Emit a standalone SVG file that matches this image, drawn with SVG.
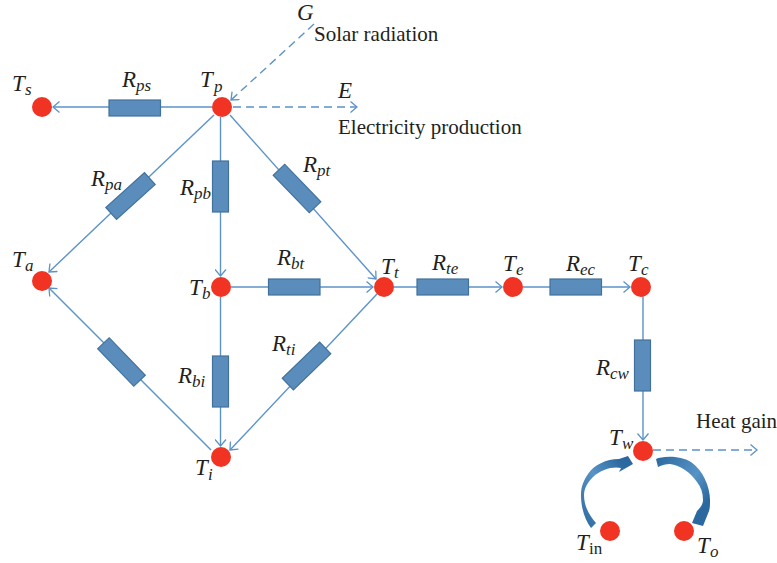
<svg xmlns="http://www.w3.org/2000/svg" width="777" height="563" viewBox="0 0 777 563">
<style>
text{font-family:"Liberation Serif",serif;fill:#231f20}
.l{font-size:21px}
.v{font-size:23px;font-style:italic}
.s{font-size:17px;font-style:italic}
.u{font-size:17px}
.c{fill:none;stroke:#5b93c7;stroke-width:1.4}
.d{stroke-dasharray:8 5}
.r{fill:#5b8dbc;stroke:#41719c;stroke-width:1.2}
.n{fill:#f13324}
</style>
<defs>
<marker id="a" viewBox="-10 -6 11 12" refX="0" refY="0" markerWidth="11" markerHeight="12" markerUnits="userSpaceOnUse" orient="auto"><path d="M-6.500-5.500L0 0L-6.500 5.500" fill="none" stroke="#5b93c7" stroke-width="1.3"/></marker>
<linearGradient id="g1" x1="0" y1="1" x2="1" y2="0"><stop offset="0" stop-color="#2a689f"/><stop offset=".5" stop-color="#5793c5"/><stop offset=".85" stop-color="#2a689f"/></linearGradient>
<linearGradient id="g2" x1="0" y1="0" x2="1" y2="1"><stop offset="0" stop-color="#2a689f"/><stop offset=".5" stop-color="#5793c5"/><stop offset=".8" stop-color="#2a689f"/></linearGradient>
</defs>
<g id="connectors">
<path class="c" d="M212 107H53" marker-end="url(#a)"/>
<path class="c" d="M214 115L49 272" marker-end="url(#a)"/>
<path class="c" d="M220.500 117V276" marker-end="url(#a)"/>
<path class="c" d="M230 115L376 279" marker-end="url(#a)"/>
<path class="c d" d="M314 24L231 100" marker-end="url(#a)"/>
<path class="c d" d="M233 107H357" marker-end="url(#a)"/>
<path class="c" d="M231 287H373" marker-end="url(#a)"/>
<path class="c" d="M220.500 297V446" marker-end="url(#a)"/>
<path class="c" d="M211 450L49 288" marker-end="url(#a)"/>
<path class="c" d="M377 294L230 450" marker-end="url(#a)"/>
<path class="c" d="M394 287H502" marker-end="url(#a)"/>
<path class="c" d="M523 287H630" marker-end="url(#a)"/>
<path class="c" d="M643 296V440" marker-end="url(#a)"/>
<path class="c d" d="M653 450H757" marker-end="url(#a)"/>
</g>
<g id="resistors">
<rect id="R-ps" class="r" x="109" y="100" width="51.500" height="16"/>
<rect id="R-pb" class="r" x="212.500" y="161" width="16" height="51"/>
<rect id="R-pa" class="r" x="-26" y="-8" width="52" height="16" transform="translate(130.500 196) rotate(-42)"/>
<rect id="R-pt" class="r" x="-26" y="-8" width="52" height="16" transform="translate(297 188.500) rotate(46)"/>
<rect id="R-bt" class="r" x="268.500" y="279" width="51.500" height="16"/>
<rect id="R-bi" class="r" x="212.500" y="356" width="16" height="51"/>
<rect id="R-ai" class="r" x="-26" y="-8" width="52" height="16" transform="translate(121.500 362) rotate(46)"/>
<rect id="R-ti" class="r" x="-26" y="-8" width="52" height="16" transform="translate(306.500 366) rotate(-44)"/>
<rect id="R-te" class="r" x="417" y="279" width="51.500" height="16"/>
<rect id="R-ec" class="r" x="550" y="279" width="51.500" height="16"/>
<rect id="R-cw" class="r" x="634.500" y="340" width="16" height="51"/>
</g>
<g id="flows">
<path d="M591 528C585 520 581 508 581 495C581 486 584 480 588 474C594 465 606 459 619 459L628 456L633 464L619 472L621 468C614 466 601 469 593 477C587 483 584 489 584 495C584 506 589 515 596 523Z" fill="url(#g1)"/>
<path d="M656 459C662 456 680 455 691 462C703 470 710 487 710 500C710 505 710 508 709 511L703 526L692 523L697 511C701 507 703 504 703 500C703 493 701 487 697 482C691 473 680 465 670 464C666 464 662 465 658 467Z" fill="url(#g2)"/>
</g>
<g id="node-Ts"><circle class="n" cx="42" cy="107" r="10"/><text class="v" x="12" y="91">T</text><text class="s" x="25" y="95">s</text></g>
<g id="node-Tp"><circle class="n" cx="222" cy="107" r="10"/><text class="v" x="200" y="87">T</text><text class="s" x="214" y="92">p</text></g>
<g id="node-Ta"><circle class="n" cx="42" cy="281" r="10"/><text class="v" x="12" y="267">T</text><text class="s" x="25" y="271">a</text></g>
<g id="node-Tb"><circle class="n" cx="221" cy="287" r="10"/><text class="v" x="189" y="295">T</text><text class="s" x="202" y="299">b</text></g>
<g id="node-Tt"><circle class="n" cx="384" cy="287" r="10"/><text class="v" x="381" y="274">T</text><text class="s" x="394" y="278">t</text></g>
<g id="node-Ti"><circle class="n" cx="221" cy="457" r="10"/><text class="v" x="195" y="475">T</text><text class="s" x="208" y="480">i</text></g>
<g id="node-Te"><circle class="n" cx="513" cy="287" r="10"/><text class="v" x="503" y="271">T</text><text class="s" x="516" y="275">e</text></g>
<g id="node-Tc"><circle class="n" cx="641" cy="287" r="10"/><text class="v" x="628" y="271">T</text><text class="s" x="641" y="275">c</text></g>
<g id="node-Tw"><circle class="n" cx="643" cy="451" r="10"/><text class="v" x="609" y="445">T</text><text class="s" x="622" y="449">w</text></g>
<g id="node-Tin"><circle class="n" cx="610" cy="531" r="10"/><text class="v" x="576" y="550">T</text><text class="u" x="589" y="554">in</text></g>
<g id="node-To"><circle class="n" cx="684" cy="531" r="10"/><text class="v" x="697" y="553">T</text><text class="s" x="710" y="557">o</text></g>
<g id="labels">
<text class="v" x="122" y="87">R</text><text class="s" x="136" y="91">ps</text>
<text class="v" x="91" y="186">R</text><text class="s" x="105" y="190">pa</text>
<text class="v" x="180" y="195">R</text><text class="s" x="194" y="199">pb</text>
<text class="v" x="303" y="172">R</text><text class="s" x="317" y="176">pt</text>
<text class="v" x="277" y="265">R</text><text class="s" x="291" y="269">bt</text>
<text class="v" x="178" y="383">R</text><text class="s" x="192" y="387">bi</text>
<text class="v" x="272" y="351">R</text><text class="s" x="286" y="355">ti</text>
<text class="v" x="432" y="270">R</text><text class="s" x="446" y="274">te</text>
<text class="v" x="566" y="271">R</text><text class="s" x="580" y="275">ec</text>
<text class="v" x="596" y="375">R</text><text class="s" x="610" y="379">cw</text>
<text class="v" x="297" y="20">G</text>
<text class="v" x="338" y="98">E</text>
<text class="l" x="314" y="41">Solar radiation</text>
<text class="l" x="338" y="134">Electricity production</text>
<text class="l" x="696" y="428">Heat gain</text>
</g>
</svg>
